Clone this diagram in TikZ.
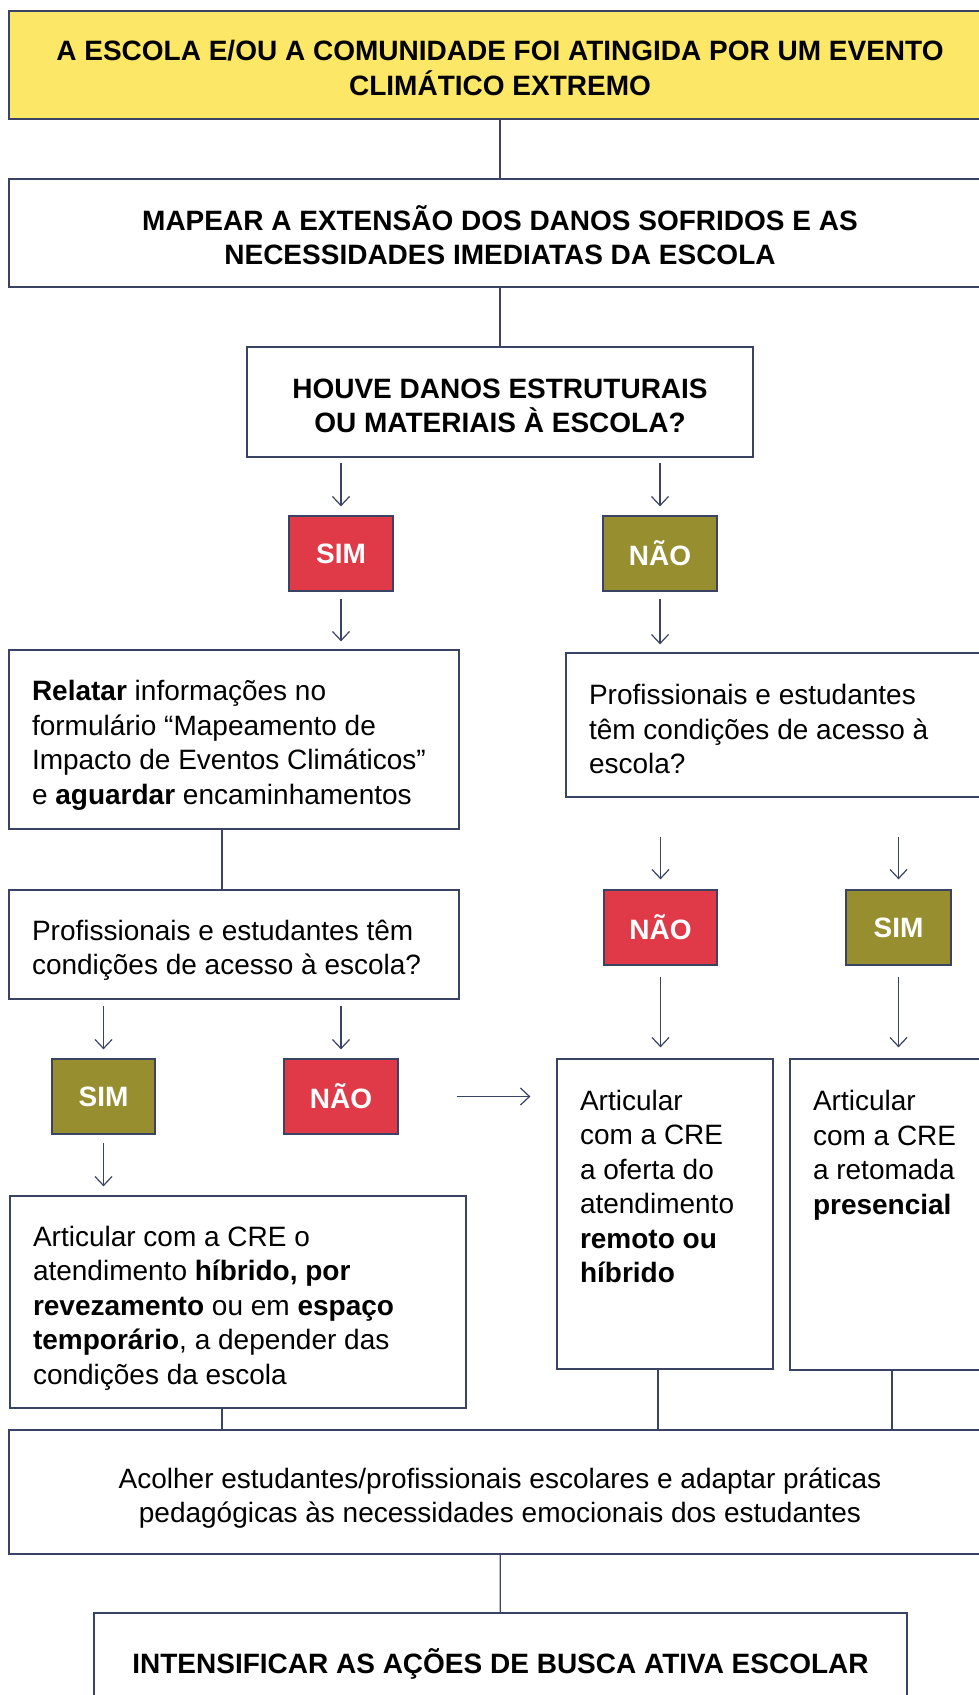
\documentclass[tikz,border=0pt]{standalone}
\usepackage{fontspec}
\setmainfont{Liberation Sans}
\usetikzlibrary{arrows.meta}
\definecolor{bd}{HTML}{3A4363}
\definecolor{yel}{HTML}{FDE767}
\definecolor{myred}{HTML}{E03A48}
\definecolor{olv}{HTML}{978E2F}
\newcommand{\bodyfont}{\fontsize{28}{34.5}\selectfont}
\newcommand{\headfont}{\fontsize{28}{34.5}\selectfont\bfseries}
% shifted text block: #1 downward shift, #2 width, #3 content
\newcommand{\tb}[3]{\raisebox{-#1}[\height][\depth]{\parbox{#2}{#3}}}
\begin{document}
\begin{tikzpicture}[x=1pt,y=-1pt,
  box/.style={draw=bd, line width=1.3pt, fill=white, inner xsep=23pt, inner ysep=0pt, font=\bodyfont},
  hbox/.style={box, font=\headfont},
  lab/.style={draw=bd, line width=1.3pt, text=white, font=\headfont, inner sep=0pt, minimum height=75pt},
  ln/.style={draw=bd, line width=1.2pt},
  arr/.style={ln, -{Straight Barb[length=9pt,width=17pt,line width=1.2pt]}}]
\useasboundingbox (0,0) rectangle (979,1695);
\clip (0,0) rectangle (979,1695);

\node[hbox, fill=yel, minimum height=108pt] (top) at (500,65)
  {\tb{3pt}{936pt}{\centering A ESCOLA E/OU A COMUNIDADE FOI ATINGIDA POR UM EVENTO\\CLIMÁTICO EXTREMO}};
\node[hbox, minimum height=108pt] (mapear) at (500,233)
  {\tb{2pt}{936pt}{\centering MAPEAR A EXTENSÃO DOS DANOS SOFRIDOS E AS\\NECESSIDADES IMEDIATAS DA ESCOLA}};
\node[hbox, minimum height=110pt] (houve) at (500,402)
  {\tb{4pt}{460pt}{\centering HOUVE DANOS ESTRUTURAIS\\OU MATERIAIS À ESCOLA?}};

\node[lab, fill=myred, minimum width=104pt] (sim1) at (341,553.5) {SIM};
\node[lab, fill=olv, minimum width=114pt] (nao1) at (660,553.5) {NÃO};

\node[box, minimum height=179pt] (relatar) at (234,739.5)
  {\tb{6pt}{404pt}{\raggedright\textbf{Relatar} informações no\\formulário “Mapeamento de\\Impacto de Eventos Climáticos”\\e \textbf{aguardar} encaminhamentos}};
\node[box, minimum height=144pt] (profr) at (779,725)
  {\tb{4pt}{380pt}{\raggedright Profissionais e estudantes\\têm condições de acesso à\\escola?}};

\node[box, minimum height=109pt] (profl) at (234,944.5)
  {\tb{6pt}{404pt}{\raggedright Profissionais e estudantes têm\\condições de acesso à escola?}};
\node[lab, fill=myred, minimum width=113pt] (nao2) at (660.5,927.5) {NÃO};
\node[lab, fill=olv, minimum width=105pt] (sim2) at (898.5,927.5) {SIM};

\node[lab, fill=olv, minimum width=103pt] (sim3) at (103.5,1096.5) {SIM};
\node[lab, fill=myred, minimum width=114pt] (nao3) at (341,1096.5) {NÃO};

\node[box, minimum height=310pt] (remoto) at (665,1214)
  {\parbox[c][248pt][t]{170pt}{\raggedright Articular\\com a CRE\\a oferta do\\atendimento\\\textbf{remoto ou}\\\textbf{híbrido}}};
\node[box, minimum height=311pt] (pres) at (895,1214.5)
  {\parbox[c][248pt][t]{164pt}{\raggedright Articular\\com a CRE\\a retomada\\\textbf{presencial}}};

\node[box, minimum height=212pt] (bl) at (238,1302)
  {\tb{6pt}{410pt}{\raggedright Articular com a CRE o\\atendimento \textbf{híbrido, por}\\\textbf{revezamento} ou em \textbf{espaço}\\\textbf{temporário}, a depender das\\condições da escola}};

\node[box, minimum height=124pt] (acolher) at (500,1492)
  {\tb{6pt}{936pt}{\centering Acolher estudantes/profissionais escolares e adaptar práticas\\pedagógicas às necessidades emocionais dos estudantes}};

\node[hbox, minimum height=106pt] (final) at (500.5,1666)
  {\tb{-2pt}{767pt}{\centering INTENSIFICAR AS AÇÕES DE BUSCA ATIVA ESCOLAR}};

% connectors
\draw[ln] (top) -- (mapear);
\draw[ln] (mapear) -- (houve);
\draw[arr, shorten <=5pt, shorten >=9pt] (sim1.north |- houve.south) -- (sim1.north);
\draw[arr, shorten <=5pt, shorten >=9pt] (nao1.north |- houve.south) -- (nao1.north);
\draw[arr, shorten <=7pt, shorten >=8pt] (sim1.south) -- (sim1.south |- relatar.north);
\draw[arr, shorten <=7pt, shorten >=8pt] (nao1.south) -- (nao1.south |- profr.north);
\coordinate (c1) at ([xshift=-12pt]relatar.south);
\draw[ln] (c1) -- (c1 |- profl.north);
\draw[arr, shorten <=39pt, shorten >=10pt] (nao2.north |- profr.south) -- (nao2.north);
\draw[arr, shorten <=39pt, shorten >=10pt] (sim2.north |- profr.south) -- (sim2.north);
\draw[arr, shorten <=11pt, shorten >=11pt] (nao2.south) -- (nao2.south |- remoto.north);
\draw[arr, shorten <=11pt, shorten >=11pt] (sim2.south) -- (sim2.south |- pres.north);
\draw[arr, shorten <=6pt, shorten >=9pt] (sim3.north |- profl.south) -- (sim3.north);
\draw[arr, shorten <=6pt, shorten >=9pt] (nao3.north |- profl.south) -- (nao3.north);
\draw[arr, shorten <=8pt, shorten >=9pt] (sim3.south) -- (sim3.south |- bl.north);
\draw[arr, shorten <=58pt, shorten >=26pt] (nao3.east) -- (nao3.east -| remoto.west);
\coordinate (c2) at ([xshift=-16pt]bl.south);
\draw[ln] (c2) -- (c2 |- acolher.north);
\coordinate (c3) at ([xshift=-7pt]remoto.south);
\draw[ln] (c3) -- (c3 |- acolher.north);
\coordinate (c4) at ([xshift=-3pt]pres.south);
\draw[ln] (c4) -- (c4 |- acolher.north);
\draw[ln] (acolher) -- (final);
\end{tikzpicture}
\end{document}
